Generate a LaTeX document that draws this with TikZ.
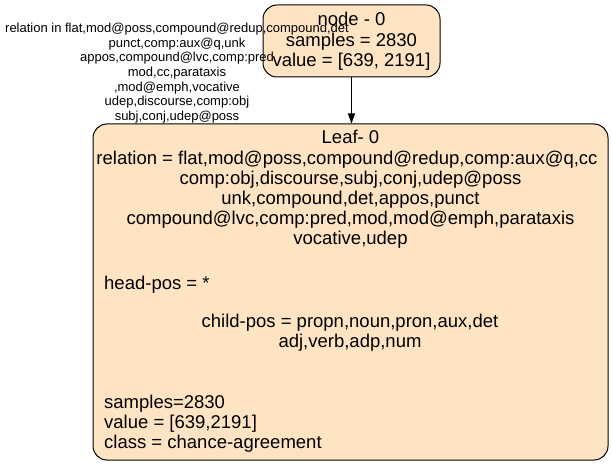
\documentclass[tikz,border=0pt]{standalone}
\usepackage{fontspec}
\setmainfont{Liberation Sans}
\usetikzlibrary{arrows.meta}
\definecolor{bisque}{HTML}{FFE4C4}
\begin{document}
\begin{tikzpicture}[x=1pt,y=-1pt,
  treebox/.style={draw=black,line width=1pt,fill=bisque,rounded corners=14pt,inner sep=0pt},
  bigtxt/.style={inner sep=0pt,anchor=base,font=\fontsize{18.5}{20}\selectfont},
  smalltxt/.style={inner sep=0pt,anchor=base,font=\fontsize{13}{14.7}\selectfont},
  edgearrow/.style={draw=black,line width=1pt,-{Triangle[length=10pt,width=7pt]}}]
\useasboundingbox (0,0) rectangle (613,465);

% decision node
\node[treebox,minimum width=177pt,minimum height=72pt] (top) at (351.5,41) {};
\node[bigtxt] (t1) at (351.5,26) {node - 0};
\node[bigtxt] (t2) at (351.5,47) {samples = 2830};
\node[bigtxt] (t3) at (351.5,67) {value = [639, 2191]};

% leaf
\node[treebox,minimum width=515pt,minimum height=336pt] (leaf) at (350.5,292) {};
\node[bigtxt] (l1) at (350.5,144) {Leaf- 0};
\node[bigtxt] (l2) at (347,165) {relation = flat,mod@poss,compound@redup,comp:aux@q,cc};
\node[bigtxt] (l3) at (350.5,185) {comp:obj,discourse,subj,conj,udep@poss};
\node[bigtxt] (l4) at (350.5,205) {unk,compound,det,appos,punct};
\node[bigtxt] (l5) at (350.5,225) {compound@lvc,comp:pred,mod,mod@emph,parataxis};
\node[bigtxt] (l6) at (350.5,244) {vocative,udep};
\node[bigtxt,anchor=base west] (l7) at (104,289) {head-pos = *};
\node[bigtxt] (l8) at (350,327) {child-pos = propn,noun,pron,aux,det};
\node[bigtxt] (l9) at (350,347) {adj,verb,adp,num};
\node[bigtxt,anchor=base west] (l10) at (104,408) {samples=2830};
\node[bigtxt,anchor=base west] (l11) at (104,428) {value = [639,2191]};
\node[bigtxt,anchor=base west] (l12) at (104,448) {class = chance-agreement};

% edge
\draw[edgearrow] (top.south) -- (top.south |- leaf.north);

% edge label
\node[smalltxt] (e1) at (177,32.5) {relation in flat,mod@poss,compound@redup,compound,det};
\node[smalltxt] (e2) at (177,47.2) {punct,comp:aux@q,unk};
\node[smalltxt] (e3) at (177,61.9) {appos,compound@lvc,comp:pred};
\node[smalltxt] (e4) at (177,76.6) {mod,cc,parataxis};
\node[smalltxt] (e5) at (177,91.3) {,mod@emph,vocative};
\node[smalltxt] (e6) at (177,106) {udep,discourse,comp:obj};
\node[smalltxt] (e7) at (177,120.7) {subj,conj,udep@poss};
\end{tikzpicture}
\end{document}
